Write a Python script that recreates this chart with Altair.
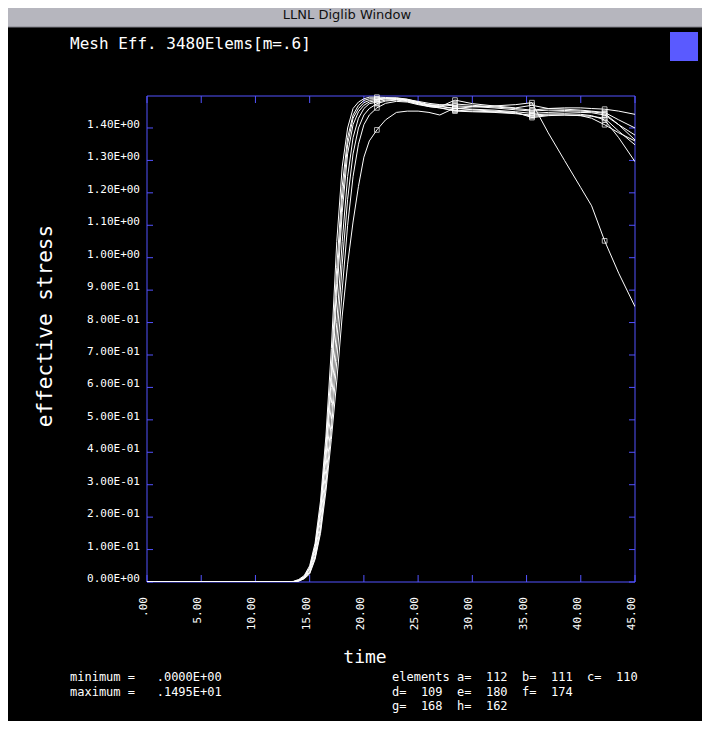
import altair as alt
import pandas as pd

# ---------------- data ----------------
TIMES = [0, 12.5, 13, 13.5, 14, 14.5, 15, 15.5, 16, 16.5, 17, 17.5, 18, 18.5, 19, 19.5,
         20, 20.5, 21.2, 22, 23, 24, 25, 26, 27, 28.4, 30, 32, 34, 35.5, 37, 38.5, 40, 41,
         42.2, 43.5, 45]

CURVE_A = [0, 0, 0, 0.002, 0.008, 0.02, 0.05, 0.12, 0.25, 0.45, 0.72, 1.05, 1.28, 1.40, 1.46, 1.48, 1.49, 1.495,
           1.495, 1.494, 1.492, 1.488, 1.482, 1.476, 1.472, 1.468, 1.466, 1.462, 1.456, 1.452, 1.455, 1.454, 1.452, 1.45, 1.445, 1.41, 1.363]
CURVE_B = [0, 0, 0, 0.001, 0.006, 0.017, 0.045, 0.11, 0.23, 0.42, 0.66, 0.97, 1.22, 1.37, 1.44, 1.47, 1.485, 1.49,
           1.49, 1.492, 1.493, 1.489, 1.48, 1.472, 1.47, 1.474, 1.47, 1.465, 1.46, 1.455, 1.46, 1.462, 1.462, 1.46, 1.458, 1.452, 1.442]
CURVE_C = [0, 0, 0, 0.001, 0.005, 0.015, 0.04, 0.10, 0.21, 0.38, 0.60, 0.88, 1.14, 1.32, 1.41, 1.45, 1.47, 1.48,
           1.485, 1.49, 1.49, 1.486, 1.478, 1.47, 1.468, 1.46, 1.458, 1.455, 1.45, 1.445, 1.448, 1.45, 1.448, 1.447, 1.44, 1.41, 1.378]
CURVE_D = [0, 0, 0, 0.001, 0.004, 0.013, 0.035, 0.09, 0.19, 0.35, 0.55, 0.80, 1.05, 1.25, 1.37, 1.43, 1.46, 1.475,
           1.48, 1.486, 1.488, 1.484, 1.475, 1.466, 1.462, 1.452, 1.45, 1.448, 1.444, 1.44, 1.443, 1.444, 1.442, 1.438, 1.425, 1.37, 1.296]
CURVE_E = [0, 0, 0, 0.001, 0.004, 0.012, 0.03, 0.08, 0.17, 0.32, 0.50, 0.74, 0.98, 1.18, 1.32, 1.40, 1.44, 1.46,
           1.475, 1.483, 1.486, 1.482, 1.474, 1.468, 1.465, 1.486, 1.475, 1.468, 1.462, 1.47, 1.46, 1.458, 1.455, 1.452, 1.448, 1.425, 1.40]
CURVE_F = [0, 0, 0, 0.001, 0.003, 0.011, 0.028, 0.075, 0.16, 0.30, 0.47, 0.68, 0.90, 1.10, 1.25, 1.35, 1.41, 1.44,
           1.462, 1.476, 1.482, 1.48, 1.472, 1.466, 1.462, 1.455, 1.452, 1.45, 1.446, 1.436, 1.44, 1.44, 1.438, 1.436, 1.43, 1.39, 1.348]
CURVE_G = [0, 0, 0, 0.001, 0.005, 0.016, 0.042, 0.105, 0.22, 0.40, 0.63, 0.92, 1.18, 1.35, 1.43, 1.46, 1.478, 1.485,
           1.488, 1.49, 1.49, 1.486, 1.478, 1.47, 1.466, 1.46, 1.465, 1.468, 1.472, 1.478, 1.385, 1.30, 1.216, 1.16, 1.052, 0.952, 0.849]
CURVE_H = [0, 0, 0, 0.001, 0.003, 0.01, 0.025, 0.07, 0.15, 0.28, 0.44, 0.62, 0.82, 0.98, 1.11, 1.22, 1.31, 1.36,
           1.394, 1.425, 1.448, 1.452, 1.452, 1.448, 1.44, 1.462, 1.456, 1.452, 1.448, 1.432, 1.438, 1.44, 1.438, 1.43, 1.41, 1.385, 1.36]

CURVE_NAMES = ["a", "b", "c", "d", "e", "f", "g", "h"]
CURVES = [CURVE_A, CURVE_B, CURVE_C, CURVE_D, CURVE_E, CURVE_F, CURVE_G, CURVE_H]
MARKER_TIMES = [21.2, 28.4, 35.5, 42.2]

X_TICKS = [0, 5, 10, 15, 20, 25, 30, 35, 40, 45]
X_TICK_LABELS = [".00", "5.00", "10.00", "15.00", "20.00", "25.00", "30.00", "35.00", "40.00", "45.00"]
Y_TICKS = [0.0, 0.1, 0.2, 0.3, 0.4, 0.5, 0.6, 0.7, 0.8, 0.9, 1.0, 1.1, 1.2, 1.3, 1.4]
Y_TICK_LABELS = ["0.00E+00", "1.00E-01", "2.00E-01", "3.00E-01", "4.00E-01", "5.00E-01",
                 "6.00E-01", "7.00E-01", "8.00E-01", "9.00E-01", "1.00E+00", "1.10E+00",
                 "1.20E+00", "1.30E+00", "1.40E+00"]

TITLE = "Mesh Eff. 3480Elems[m=.6]"
WINDOW_TITLE = "LLNL Diglib Window"
X_TITLE = "time"
Y_TITLE = "effective stress"
STATS_LINES = ["minimum =   .0000E+00", "maximum =   .1495E+01"]
ELEMENT_LINES = ["elements a=  112  b=  111  c=  110",
                 "         d=  109  e=  180  f=  174",
                 "         g=  168  h=  162"]

X_MAX = 45
Y_MAX = 1.4986

# ---------------- build tables ----------------
rows = []
for name, vals in zip(CURVE_NAMES, CURVES):
    for t, v in zip(TIMES, vals):
        rows.append({"curve": name, "t": t, "v": v})
curves_df = pd.DataFrame(rows)
markers_df = curves_df[curves_df["t"].isin(MARKER_TIMES)]
xt_df = pd.DataFrame({"t": X_TICKS, "label": X_TICK_LABELS})
yt_df = pd.DataFrame({"v": Y_TICKS, "label": Y_TICK_LABELS})

MONO = "DejaVu Sans Mono"
BLUE = "#5252ff"
W, H = 488, 486

xs = alt.Scale(domain=[0, X_MAX], nice=False, zero=False)
ys = alt.Scale(domain=[0, Y_MAX], nice=False)
X = lambda f="t": alt.X(f"{f}:Q", scale=xs, axis=None)
Y = lambda f="v": alt.Y(f"{f}:Q", scale=ys, axis=None)

layers = []

# window title bar
layers.append(alt.Chart().mark_rect(color="#b6b6be").encode(
    x=alt.value(-139), x2=alt.value(555), y=alt.value(-88), y2=alt.value(-69)))
layers.append(alt.Chart().mark_rule(color="#808088").encode(
    x=alt.value(-139), x2=alt.value(555), y=alt.value(-69)))
layers.append(alt.Chart().mark_text(text=WINDOW_TITLE, font="DejaVu Sans", fontSize=13,
                                    color="#111111", baseline="middle", align="center").encode(
    x=alt.value(200), y=alt.value(-81)))
# logo
layers.append(alt.Chart().mark_rect(color="#5a5aff").encode(
    x=alt.value(523), x2=alt.value(551), y=alt.value(-64), y2=alt.value(-35)))

# frame
frame_color = BLUE
layers.append(alt.Chart().mark_rule(color=frame_color).encode(x=alt.value(0), x2=alt.value(W), y=alt.value(0)))
layers.append(alt.Chart().mark_rule(color=frame_color).encode(x=alt.value(0), x2=alt.value(W), y=alt.value(H)))
layers.append(alt.Chart().mark_rule(color=frame_color).encode(x=alt.value(0), y=alt.value(0), y2=alt.value(H)))
layers.append(alt.Chart().mark_rule(color=frame_color).encode(x=alt.value(W), y=alt.value(0), y2=alt.value(H)))

# ticks (inward)
layers.append(alt.Chart(xt_df).mark_rule(color=frame_color).encode(x=X(), y=alt.value(H - 7), y2=alt.value(H)))
layers.append(alt.Chart(xt_df).mark_rule(color=frame_color).encode(x=X(), y=alt.value(0), y2=alt.value(7)))
layers.append(alt.Chart(yt_df).mark_rule(color=frame_color).encode(y=Y(), x=alt.value(0), x2=alt.value(6)))
layers.append(alt.Chart(yt_df).mark_rule(color=frame_color).encode(y=Y(), x=alt.value(W - 6), x2=alt.value(W)))

# tick labels
layers.append(alt.Chart(yt_df).mark_text(font=MONO, fontSize=11, color="white", align="right",
                                         baseline="alphabetic").encode(
    y=Y(), x=alt.value(-7), text="label:N"))
layers.append(alt.Chart(xt_df).mark_text(font=MONO, fontSize=11, color="white", align="right",
                                         baseline="alphabetic", angle=270).encode(
    x=X(), y=alt.value(H + 15), text="label:N"))

# curves
layers.append(alt.Chart(curves_df).mark_line(color="white", strokeWidth=1, clip=True).encode(
    x=X(), y=Y(), detail="curve:N", order="t:Q"))
layers.append(alt.Chart(markers_df).mark_point(shape="square", filled=False, color="white",
                                               size=22, strokeWidth=1).encode(x=X(), y=Y()))

# titles
layers.append(alt.Chart().mark_text(text=TITLE, font=MONO, fontSize=16, color="white",
                                    align="left", baseline="alphabetic").encode(
    x=alt.value(-77), y=alt.value(-47)))
layers.append(alt.Chart().mark_text(text=X_TITLE, font=MONO, fontSize=18, color="white",
                                    align="center", baseline="alphabetic").encode(
    x=alt.value(218), y=alt.value(567)))
layers.append(alt.Chart().mark_text(text=Y_TITLE, font=MONO, fontSize=21, color="white",
                                    align="center", baseline="middle", angle=270).encode(
    x=alt.value(-101), y=alt.value(230)))

# statistics
NB = "\u00a0"
for i, line in enumerate(STATS_LINES):
    layers.append(alt.Chart().mark_text(text=line.replace(" ", NB), font=MONO, fontSize=12,
                                        color="white", align="left", baseline="alphabetic").encode(
        x=alt.value(-77), y=alt.value(585 + 14.5 * i)))
for i, line in enumerate(ELEMENT_LINES):
    layers.append(alt.Chart().mark_text(text=line.replace(" ", NB), font=MONO, fontSize=12,
                                        color="white", align="left", baseline="alphabetic").encode(
        x=alt.value(245), y=alt.value(585 + 14.5 * i)))

chart = alt.layer(*layers).properties(
    width=W, height=H,
    autosize=alt.AutoSizeParams(type="none"),
    padding={"left": 139, "top": 88, "right": 67, "bottom": 139},
    background="black",
).configure_view(strokeWidth=0)

chart.save("out.html", embed_options={"renderer": "svg", "actions": False})
